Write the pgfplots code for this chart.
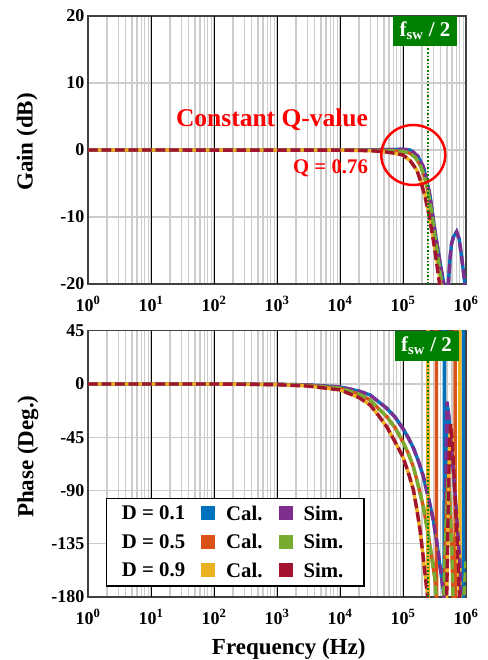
\documentclass[border=0pt]{standalone}
\usepackage{fontspec}
\setmainfont{Liberation Serif}
\usepackage{pgfplots}
\pgfplotsset{compat=1.18}
\definecolor{cblue}{RGB}{0,114,189}
\definecolor{corange}{RGB}{217,83,25}
\definecolor{cyellow}{RGB}{237,177,32}
\definecolor{cpurple}{RGB}{126,47,142}
\definecolor{cgreen}{RGB}{119,172,48}
\definecolor{cred}{RGB}{162,20,47}
\definecolor{fswgreen}{RGB}{0,128,0}
\tikzset{
  cal/.style={line width=3.4pt},
  sim/.style={line width=3.4pt, dash pattern=on 9.5pt off 4pt},
}
\begin{document}
\begin{tikzpicture}
\useasboundingbox (0pt,0pt) rectangle (487pt,-660pt);
% ---------------- Gain ----------------
\begin{axis}[at={(88pt,-284pt)}, anchor=south west,
  scale only axis, width=378pt, height=268pt,
  xmode=log, xmin=1, xmax=1e6,
  xtick={1,10,100,1000,10000,100000,1000000},
  xticklabels={10\textsuperscript{0},10\textsuperscript{1},10\textsuperscript{2},10\textsuperscript{3},10\textsuperscript{4},10\textsuperscript{5},10\textsuperscript{6}},
  xticklabel style={yshift=-9pt},
  extra x ticks={10,100,1000,10000,100000},
  extra x tick labels={},
  extra x tick style={grid=major, major grid style={black, line width=0.8pt}},
  xmajorgrids, xminorgrids, ymajorgrids,
  minor grid style={black!20, line width=1.1pt},
  major grid style={black!20, line width=1.1pt},
  major tick length=0pt, minor tick length=0pt,
  axis line style={black!75, line width=1.2pt},
  tick label style={font=\bfseries\fontsize{18}{20}\selectfont},
  label style={font=\bfseries\fontsize{23}{26}\selectfont},
  ymin=-20, ymax=20, ytick={-20,-10,0,10,20}, yticklabels={-20,-10,0,10,20},
  ylabel={Gain (dB)},
  ylabel style={at={(axis description cs:-0.161,0.53)}, anchor=center}]
\addplot[cal, cblue] coordinates {(1,0)(1e4,0)(5e4,0.05)(1e5,0.1)(1.3e5,0)(1.45e5,-0.3)(1.74e5,-1.0)(2.1e5,-2.5)(2.38e5,-4.5)(2.7e5,-7)(3.2e5,-12)(3.9e5,-17)(4.45e5,-20)(4.7e5,-26)(4.9e5,-35)(5.1e5,-27)(5.25e5,-20)(5.6e5,-16)(5.9e5,-14)(6.3e5,-13)(7.1e5,-12.2)(7.8e5,-13.3)(8.5e5,-15.9)(9.6e5,-20)(1e6,-22)};
\addplot[cal, corange] coordinates {(1,0)(1e4,0)(5e4,-0.05)(1e5,-0.2)(1.3e5,-0.5)(1.6e5,-1.2)(1.9e5,-2.4)(2.2e5,-4)(2.5e5,-6.2)(2.85e5,-9.3)(3.25e5,-13.2)(3.7e5,-17)(4.1e5,-20)(4.5e5,-24)(5e5,-30)};
\addplot[cal, cyellow] coordinates {(1,0)(1e4,0)(3e4,-0.1)(5e4,-0.25)(7e4,-0.45)(1e5,-0.75)(1.3e5,-1.6)(1.66e5,-3)(1.95e5,-4.8)(2.24e5,-6.8)(2.55e5,-9.2)(2.85e5,-11.6)(3.2e5,-14.6)(3.6e5,-17.6)(4.0e5,-20)(4.4e5,-24)};
\addplot[sim, cpurple] coordinates {(1,0)(1e4,0)(5e4,0.05)(1e5,0.1)(1.3e5,0)(1.45e5,-0.3)(1.74e5,-1.0)(2.1e5,-2.5)(2.38e5,-4.5)(2.7e5,-7)(3.2e5,-12)(3.9e5,-17)(4.45e5,-20)(4.7e5,-26)(4.9e5,-35)(5.1e5,-27)(5.25e5,-20)(5.6e5,-16)(5.9e5,-14)(6.3e5,-13)(7.1e5,-12.2)(7.8e5,-13.3)(8.5e5,-15.9)(9.6e5,-20)(1e6,-22)};
\addplot[sim, cgreen] coordinates {(1,0)(1e4,0)(5e4,-0.05)(1e5,-0.2)(1.3e5,-0.5)(1.6e5,-1.2)(1.9e5,-2.4)(2.2e5,-4)(2.5e5,-6.2)(2.85e5,-9.3)(3.25e5,-13.2)(3.7e5,-17)(4.1e5,-20)(4.5e5,-24)(5e5,-30)};
\addplot[sim, cred] coordinates {(1,0)(1e4,-0.02)(3e4,-0.1)(5e4,-0.25)(7e4,-0.45)(1e5,-0.75)(1.3e5,-1.6)(1.66e5,-3)(1.95e5,-5)(2.24e5,-7)(2.55e5,-9.5)(2.85e5,-12)(3.15e5,-14.5)(3.43e5,-17)(3.8e5,-20)(4.2e5,-24)};
\addplot[red!40, dotted, line width=1pt] coordinates {(2.44e5,-20)(2.44e5,20)};
\addplot[fswgreen, dotted, line width=1.6pt] coordinates {(2.5e5,-20)(2.5e5,20)};
\end{axis}
% ---------------- Phase ----------------
\begin{axis}[at={(88pt,-597pt)}, anchor=south west,
  scale only axis, width=378pt, height=266.3pt,
  xmode=log, xmin=1, xmax=1e6,
  xtick={1,10,100,1000,10000,100000,1000000},
  xticklabels={10\textsuperscript{0},10\textsuperscript{1},10\textsuperscript{2},10\textsuperscript{3},10\textsuperscript{4},10\textsuperscript{5},10\textsuperscript{6}},
  xticklabel style={yshift=-9pt},
  extra x ticks={10,100,1000,10000,100000},
  extra x tick labels={},
  extra x tick style={grid=major, major grid style={black, line width=0.8pt}},
  xmajorgrids, xminorgrids, ymajorgrids,
  minor grid style={black!20, line width=1.1pt},
  major grid style={black!20, line width=1.1pt},
  major tick length=0pt, minor tick length=0pt,
  axis line style={black!75, line width=1.2pt},
  tick label style={font=\bfseries\fontsize{18}{20}\selectfont},
  label style={font=\bfseries\fontsize{23}{26}\selectfont},
  unbounded coords=jump,
  ymin=-180, ymax=45, ytick={-180,-135,-90,-45,0,45}, yticklabels={-180,-135,-90,-45,0,45},
  ylabel={Phase (Deg.)}, xlabel={Frequency (Hz)},
  ylabel style={at={(axis description cs:-0.159,0.527)}, anchor=center},
  xlabel style={at={(axis description cs:0.531,-0.195)}, anchor=center}]
\addplot[cal, cblue] coordinates {(1,0)(100,0)(1000,-0.3)(3162,-0.8)(1e4,-2.5)(2e4,-6)(3e4,-9.3)(5.5e4,-20.5)(7.5e4,-28)(9.9e4,-37.4)(1.2e5,-45)(1.46e5,-54)(1.75e5,-65)(2.1e5,-78)(2.5e5,-95)(3.03e5,-115)(3.45e5,-134)(3.87e5,-154)(4.2e5,-168)(4.5e5,-180)(4.52e5,60)(4.55e5,-190)(4.62e5,-190)(4.75e5,-120)(4.85e5,-50)(4.95e5,-15)(5.2e5,-22)(5.6e5,-39)(6.3e5,-73)(7.1e5,-112)(8.0e5,-151)(8.5e5,-190)(9.05e5,-190)(9.06e5,60)(1e6,60)};
\addplot[cal, corange] coordinates {(1,0)(100,0)(1000,-0.4)(3162,-1.2)(1e4,-3.5)(2e4,-8.5)(3e4,-13.5)(5.5e4,-27.6)(7.5e4,-37)(9.9e4,-48.6)(1.2e5,-58)(1.46e5,-70)(1.75e5,-86)(2.1e5,-103.5)(2.4e5,-121)(2.68e5,-137)(3e5,-154)(3.22e5,-165)(3.38e5,-180)(3.39e5,60)(3.41e5,-190)(4.4e5,-190)(4.7e5,-135)(5.0e5,-95)(5.25e5,-78)(5.6e5,-105)(6.0e5,-145)(6.3e5,-190)(6.7e5,-190)(6.71e5,60)(1e6,60)};
\addplot[cal, cyellow] coordinates {(1,0)(100,0)(1000,-0.5)(3162,-1.7)(1e4,-5)(2e4,-11.5)(3e4,-17.7)(4e4,-26)(5.5e4,-36)(7.5e4,-49)(9.9e4,-61.3)(1.2e5,-74)(1.46e5,-89.4)(1.66e5,-106)(1.86e5,-123)(2.05e5,-142)(2.23e5,-160)(2.48e5,-180)(2.49e5,60)(2.51e5,-190)(4.9e5,-190)(5.2e5,-110)(5.45e5,-55)(5.7e5,-34)(6.0e5,-45)(6.5e5,-80)(7.2e5,-130)(8e5,-190)(8.01e5,60)(1e6,60)};
\addplot[sim, cpurple] coordinates {(1,0)(100,0)(1000,-0.3)(3162,-0.8)(1e4,-2.5)(2e4,-6)(3e4,-9.3)(5.5e4,-20.5)(7.5e4,-28)(9.9e4,-37.4)(1.2e5,-45)(1.46e5,-54)(1.75e5,-65)(2.1e5,-78)(2.5e5,-95)(3.03e5,-115)(3.45e5,-134)(3.87e5,-154)(4.2e5,-168)(4.5e5,-182)(4.55e5,nan)(4.62e5,-190)(4.75e5,-120)(4.85e5,-50)(4.95e5,-15)(5.2e5,-22)(5.6e5,-39)(6.3e5,-73)(7.1e5,-112)(8.0e5,-151)(8.5e5,-190)(9.0e5,nan)(9.4e5,-190)(1e6,-165)};
\addplot[sim, cgreen] coordinates {(1,0)(100,0)(1000,-0.4)(3162,-1.2)(1e4,-3.5)(2e4,-8.5)(3e4,-13.5)(5.5e4,-27.6)(7.5e4,-37)(9.9e4,-48.6)(1.2e5,-58)(1.46e5,-70)(1.75e5,-86)(2.1e5,-103.5)(2.4e5,-121)(2.68e5,-137)(3e5,-154)(3.22e5,-165)(3.38e5,-182)(3.5e5,nan)(4.4e5,-190)(4.7e5,-135)(5.0e5,-95)(5.25e5,-78)(5.6e5,-105)(6.0e5,-145)(6.3e5,-190)(7e5,nan)(9.0e5,-190)(1e6,-150)};
\addplot[sim, cred] coordinates {(1,0)(100,0)(1000,-0.6)(3162,-1.8)(1e4,-5)(2e4,-11.5)(3e4,-17.7)(4e4,-26)(5.5e4,-36)(7.5e4,-49)(9.9e4,-61.3)(1.2e5,-74)(1.46e5,-89.4)(1.66e5,-106)(1.86e5,-123)(2.05e5,-142)(2.23e5,-160)(2.48e5,-182)(3e5,nan)(4.9e5,-190)(5.2e5,-110)(5.45e5,-55)(5.7e5,-34)(6.0e5,-45)(6.5e5,-80)(7.2e5,-130)(8e5,-190)};
\addplot[red!40, dotted, line width=1pt] coordinates {(2.44e5,-180)(2.44e5,45)};
\addplot[fswgreen, dotted, line width=1.6pt] coordinates {(2.52e5,-180)(2.52e5,45)};
\end{axis}
% ---------------- annotations ----------------
\node[font=\bfseries\fontsize{25.5}{27}\selectfont, text=red, inner sep=0pt] at (272pt,-120pt) {Constant Q-value};
\node[font=\bfseries\fontsize{20.8}{22}\selectfont, text=red, inner sep=0pt] at (330.5pt,-168pt) {Q = 0.76};
\draw[red, line width=2.5pt] (413.3pt,-155pt) ellipse (32pt and 30pt);
\node[fill=fswgreen, text=white, minimum width=64pt, minimum height=30pt, inner sep=0pt,
  font=\bfseries\fontsize{21}{22}\selectfont] at (425pt,-31pt) {f\textsubscript{sw} / 2};
\node[fill=fswgreen, text=white, minimum width=64pt, minimum height=30pt, inner sep=0pt,
  font=\bfseries\fontsize{21}{22}\selectfont] at (426.5pt,-345.5pt) {f\textsubscript{sw} / 2};
% ---------------- legend ----------------
\draw[black, line width=1.2pt, fill=white] (106.7pt,-498.3pt) rectangle (364pt,-586pt);
\foreach \yy/\dd/\ca/\cb in {513/0.1/cblue/cpurple, 541.5/0.5/corange/cgreen, 570/0.9/cyellow/cred}{
  \node[anchor=west, inner sep=0pt, font=\bfseries\fontsize{20.8}{22}\selectfont] at (121.7pt,-\yy pt) {D = \dd};
  \fill[\ca] (201pt,-\yy pt+7pt) rectangle (215pt,-\yy pt-7pt);
  \node[anchor=west, inner sep=0pt, font=\bfseries\fontsize{20.8}{22}\selectfont] at (226pt,-\yy pt) {Cal.};
  \fill[\cb] (279.3pt,-\yy pt+7pt) rectangle (293.3pt,-\yy pt-7pt);
  \node[anchor=west, inner sep=0pt, font=\bfseries\fontsize{20.8}{22}\selectfont] at (303.3pt,-\yy pt) {Sim.};
}
\end{tikzpicture}
\end{document}
